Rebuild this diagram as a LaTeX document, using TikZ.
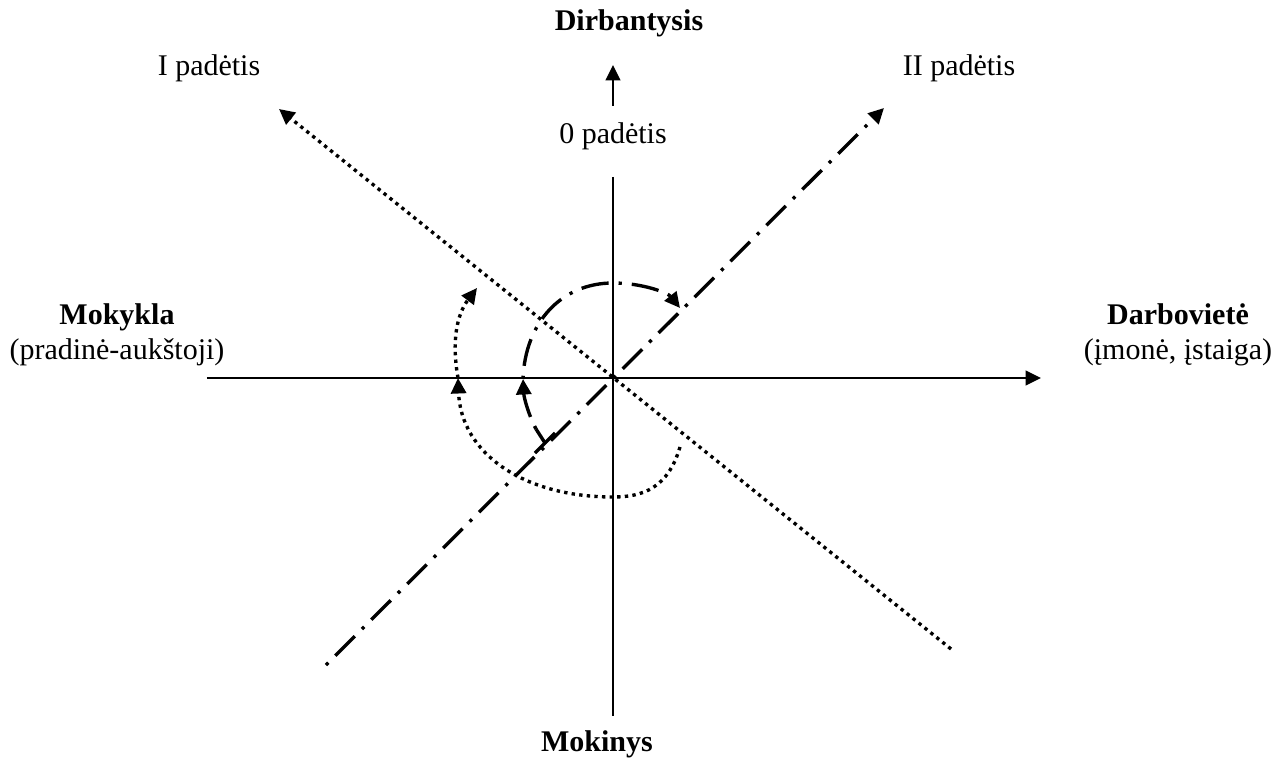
\documentclass[tikz,border=0pt]{standalone}
\usepackage{fontspec}
\setmainfont{Liberation Serif}
\usetikzlibrary{arrows.meta}

\begin{document}
\begin{tikzpicture}[x=0.4pt, y=0.4pt,
    lbl/.style={font=\fontsize{12}{14}\selectfont, align=center},
    blbl/.style={font=\fontsize{12}{14}\selectfont\bfseries, align=center},
    ax/.style={line width=0.7pt},
    tip/.style={-{Triangle[length=6.2pt,width=6pt]}},
    dots/.style={line width=1.35pt, dash pattern=on 1.35pt off 1.7pt},
    dashdot/.style={line width=1.35pt, dash pattern=on 1.3pt off 4pt on 11pt off 4pt}]
  \useasboundingbox (-613,-381) rectangle (672,378);

  % labels
  \node[blbl] (dirb) at (16,355) {Dirbantysis};
  \node[lbl] (nulis) at (0,242) {0 padėtis};
  \node[lbl] (pI) at (-404,310) {I padėtis};
  \node[lbl] (pII) at (346,310) {II padėtis};
  \node[blbl] (mok) at (-16,-366) {Mokinys};
  \node[lbl] (mokykla) at (-496,43) {\textbf{Mokykla}\\(pradinė-aukštoji)};
  \node[lbl] (darbov) at (565,43) {\textbf{Darbovietė}\\(įmonė, įstaiga)};

  % axes
  \coordinate (O) at (0,0);
  \coordinate (xl) at (-406,0);
  \coordinate (xr) at (428,0);
  \coordinate (yt) at (0,201);
  \coordinate (yb) at (0,-338);
  \coordinate (up1) at (0,272);
  \coordinate (up2) at (0,313);
  \draw[ax, tip] (xl) -- (xr);
  \draw[ax] (yt) -- (yb);
  \draw[ax, tip] (up1) -- (up2);

  % I and II
  \coordinate (i1) at (-334,269);
  \coordinate (i2) at (338,-271);
  \coordinate (ii1) at (271,270);
  \coordinate (ii2) at (-287,-287);
  \draw[dots, tip] (i2) -- (i1);
  \draw[dashdot, tip] (ii2) -- (ii1);

  % dotted turn
  \coordinate (d0) at (67,-69);
  \coordinate (d1) at (-155,0);
  \coordinate (d2) at (-136,90);
  \draw[dots, tip] (d0) .. controls (55,-110) and (30,-119) .. (0,-119)
    .. controls (-90,-119) and (-152,-75) .. (d1);
  \draw[dots, tip] (d1) .. controls (-162,40) and (-155,65) .. (d2);

  % dash-dot turn
  \coordinate (c0) at (-68,-65);
  \coordinate (c1) at (-90,-1);
  \coordinate (c2) at (67,70);
  \coordinate (bar1) at (-78,-75);
  \coordinate (bar2) at (-58,-55);
  \draw[line width=1.35pt] (bar1) -- (bar2);
  \draw[line width=1.35pt] (c0) -- ++(-9,14);
  \draw[dashdot, tip] (c0) ++(-9,14) .. controls (-84,-38) and (-89,-20) .. (c1);
  \draw[dashdot, tip] (c1) .. controls (-88,55) and (-52,95) .. (0,95)
    .. controls (30,95) and (55,85) .. (c2);
\end{tikzpicture}
\end{document}
